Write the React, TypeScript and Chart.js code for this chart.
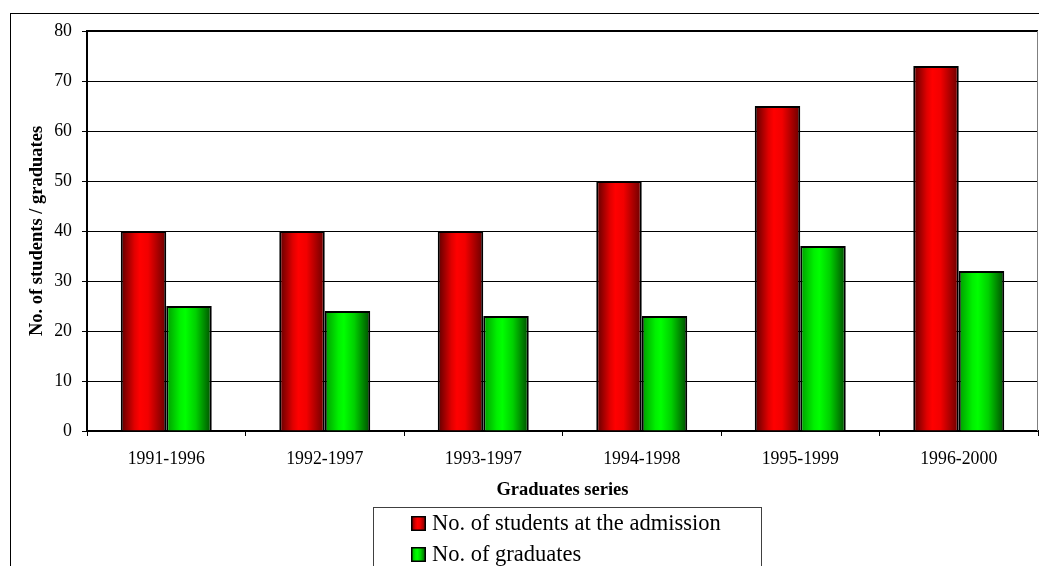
import React, { useEffect, useRef } from 'react';
import { Chart, registerables } from 'chart.js';

Chart.register(...registerables);

// ---- data ----
const categories = ['1991-1996', '1992-1997', '1993-1997', '1994-1998', '1995-1999', '1996-2000'];
const admissions = [40, 40, 40, 50, 65, 73];
const graduates = [25, 24, 23, 23, 37, 32];
const seriesLabels = ['No. of students at the admission', 'No. of graduates'];
const yMin = 0;
const yMax = 80;
const yStep = 10;
const xTitle = 'Graduates series';
const yTitle = 'No. of students / graduates';

// ---- styles ----
const SERIF = "'Liberation Serif', 'Times New Roman', serif";
const CAT_PCT = 0.574;

type Stops = [number, string][];
const redStops: Stops = [
  [0, '#5a0000'],
  [0.3, '#e00000'],
  [0.42, '#ff0000'],
  [0.6, '#f20000'],
  [1, '#680000'],
];
const greenStops: Stops = [
  [0, '#009a00'],
  [0.3, '#00f000'],
  [0.42, '#00ff00'],
  [0.65, '#00d000'],
  [1, '#004c00'],
];

function makeGradient(ctx: CanvasRenderingContext2D, x0: number, x1: number, stops: Stops) {
  const g = ctx.createLinearGradient(x0, 0, x1, 0);
  stops.forEach(([o, c]) => g.addColorStop(o, c));
  return g;
}

function barFill(stops: Stops) {
  return (c: any) => {
    const fallback = stops[2][1];
    if (c.type !== 'data') return fallback;
    const chart = c.chart;
    const xs = chart.scales && chart.scales.x;
    if (!chart.chartArea || !xs) return fallback;
    const n = chart.data.labels.length;
    const center = xs.getPixelForValue(c.dataIndex);
    const groupW = (xs.width / n) * CAT_PCT;
    const barW = groupW / chart.data.datasets.length;
    const left = center - groupW / 2 + c.datasetIndex * barW;
    return makeGradient(chart.ctx, left, left + barW, stops);
  };
}

const seriesStops: Stops[] = [redStops, greenStops];

const framePlugin = {
  id: 'frame',
  beforeDraw(chart: any) {
    const ctx = chart.ctx as CanvasRenderingContext2D;
    ctx.save();
    ctx.fillStyle = '#ffffff';
    ctx.fillRect(0, 0, chart.width, chart.height);
    ctx.strokeStyle = '#000000';
    ctx.lineWidth = 1;
    ctx.strokeRect(10.5, 13.5, chart.width + 20, chart.height + 20);
    ctx.restore();
  },
  afterDraw(chart: any) {
    const ctx = chart.ctx as CanvasRenderingContext2D;
    const a = chart.chartArea;
    ctx.save();
    // plot frame: top and right
    ctx.strokeStyle = '#000000';
    ctx.lineWidth = 2;
    ctx.beginPath();
    ctx.moveTo(a.left, a.top);
    ctx.lineTo(a.right, a.top);
    ctx.stroke();
    ctx.strokeStyle = '#808080';
    ctx.lineWidth = 1;
    ctx.beginPath();
    ctx.moveTo(a.right - 0.5, a.top);
    ctx.lineTo(a.right - 0.5, a.bottom);
    ctx.stroke();

    // legend
    const lx = 373.5;
    const ly = 507.5;
    ctx.strokeStyle = '#404040';
    ctx.lineWidth = 1;
    ctx.strokeRect(lx, ly, 761 - 373, 100);
    chart.data.datasets.forEach((ds: any, i: number) => {
      const sy = 516 + i * 31;
      const sx = 411;
      ctx.fillStyle = makeGradient(ctx, sx, sx + 15, seriesStops[i]);
      ctx.fillRect(sx, sy, 15, 15);
      ctx.strokeStyle = '#000000';
      ctx.lineWidth = 1.5;
      ctx.strokeRect(sx + 0.75, sy + 0.75, 13.5, 13.5);
      ctx.fillStyle = '#000000';
      ctx.font = `22.5px ${SERIF}`;
      ctx.textBaseline = 'middle';
      ctx.textAlign = 'left';
      ctx.fillText(ds.label, 432, sy + 8);
    });
    ctx.restore();
  },
};

export default function App() {
  const canvasRef = useRef<HTMLCanvasElement | null>(null);

  useEffect(() => {
    document.body.style.margin = '0';
    const canvas = canvasRef.current;
    if (!canvas) return;
    const chart = new Chart(canvas, {
      type: 'bar',
      data: {
        labels: categories,
        datasets: [
          {
            label: seriesLabels[0],
            data: admissions,
            backgroundColor: barFill(redStops) as any,
            borderColor: '#000000',
            borderWidth: 2,
          },
          {
            label: seriesLabels[1],
            data: graduates,
            backgroundColor: barFill(greenStops) as any,
            borderColor: '#000000',
            borderWidth: 2,
          },
        ],
      },
      options: {
        animation: false,
        responsive: true,
        maintainAspectRatio: false,
        events: [],
        datasets: {
          bar: {
            categoryPercentage: CAT_PCT,
            barPercentage: 1,
          },
        },
        layout: {
          padding: { top: 31, right: 1, bottom: 60, left: 0 },
        },
        plugins: {
          legend: { display: false },
          tooltip: { enabled: false },
          title: { display: false },
        },
        scales: {
          x: {
            afterFit: (s: any) => {
              s.height = 75;
            },
            grid: {
              display: true,
              drawOnChartArea: false,
              drawTicks: true,
              tickLength: 5,
              color: '#000000',
              lineWidth: 1,
            },
            border: { display: true, color: '#000000', width: 2 },
            ticks: {
              color: '#000000',
              padding: 13,
              maxRotation: 0,
              autoSkip: false,
              font: { family: SERIF, size: 17.8 },
            },
            title: {
              display: true,
              text: xTitle,
              color: '#000000',
              padding: { top: 0, bottom: 5 },
              font: { family: SERIF, size: 18.5, weight: 'bold' },
            },
          },
          y: {
            min: yMin,
            max: yMax,
            afterFit: (s: any) => {
              s.width = 87;
            },
            grid: {
              color: '#000000',
              lineWidth: 1,
              drawTicks: true,
              tickLength: 5,
            },
            border: { display: true, color: '#000000', width: 2 },
            ticks: {
              stepSize: yStep,
              color: '#000000',
              padding: 10,
              font: { family: SERIF, size: 17.8 },
            },
            title: {
              display: true,
              text: yTitle,
              color: '#000000',
              padding: { top: 26, bottom: 0 },
              font: { family: SERIF, size: 18.5, weight: 'bold' },
            },
          },
        },
      },
      plugins: [framePlugin],
    });
    return () => chart.destroy();
  }, []);

  return (
    <div style={{ position: 'absolute', left: 0, top: 0, width: 1039, height: 566 }}>
      <canvas ref={canvasRef} />
    </div>
  );
}
